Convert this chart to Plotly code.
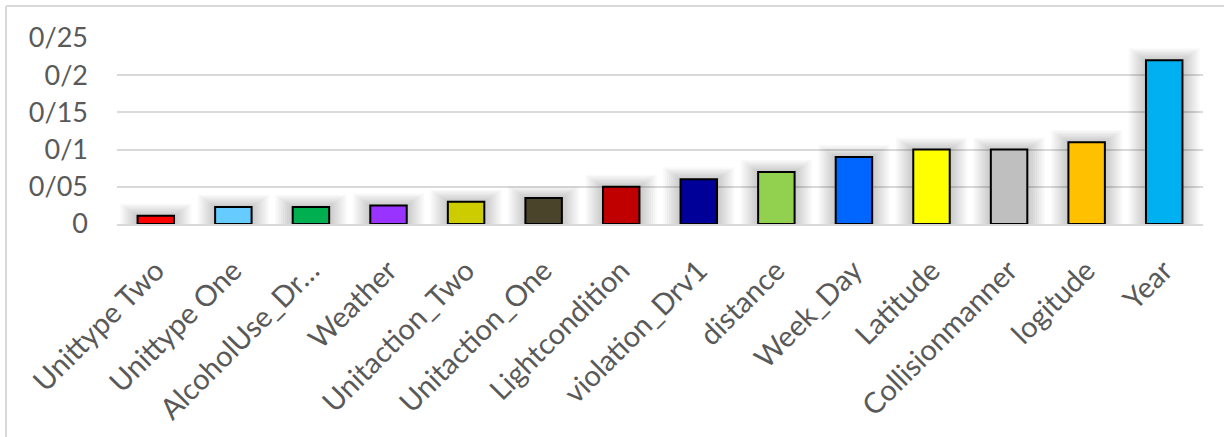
import plotly.graph_objects as go

# Feature importance values per variable
features = [
    "Unittype Two", "Unittype One", "AlcoholUse_Dr…", "Weather",
    "Unitaction_Two", "Unitaction_One", "Lightcondition", "violation_Drv1",
    "distance", "Week_Day", "Latitude", "Collisionmanner", "logitude", "Year",
]
importance = [0.011, 0.023, 0.023, 0.025, 0.030, 0.035, 0.050, 0.060,
              0.070, 0.090, 0.100, 0.100, 0.110, 0.220]
bar_colors = [
    "#FF0000", "#66CCFF", "#00B050", "#9933FF", "#CCCC00", "#4A452A",
    "#C00000", "#000099", "#92D050", "#0066FF", "#FFFF00", "#BFBFBF",
    "#FFC000", "#00B0F0",
]

# y-axis ticks use "/" as the decimal separator
tick_values = [0, 0.05, 0.1, 0.15, 0.2, 0.25]
tick_labels = ["0", "0/05", "0/1", "0/15", "0/2", "0/25"]

BAR_WIDTH = 0.47
FONT = "Lato"
TEXT_COLOR = "#595959"

fig = go.Figure()

# soft drop shadow behind each bar, built from stacked translucent layers
for k in range(1, 10):
    fig.add_trace(go.Bar(
        x=features,
        y=[v + 0.0018 * k for v in importance],
        width=BAR_WIDTH + 0.05 * k,
        marker=dict(color="rgba(0,0,0,0.022)", line=dict(width=0)),
        hoverinfo="skip",
        showlegend=False,
    ))

fig.add_trace(go.Bar(
    x=features,
    y=importance,
    width=BAR_WIDTH,
    marker=dict(color=bar_colors, line=dict(color="#000000", width=2)),
    showlegend=False,
))

fig.update_layout(
    width=1224,
    height=437,
    margin=dict(l=117, r=21, t=38, b=213, autoexpand=False),
    paper_bgcolor="#FFFFFF",
    plot_bgcolor="#FFFFFF",
    barmode="overlay",
    font=dict(family=FONT, size=26, color=TEXT_COLOR),
    xaxis=dict(
        automargin=False,
        tickangle=-45,
        showgrid=False,
        showline=True,
        linecolor="#D9D9D9",
        linewidth=2,
        ticks="",
        ticklabelstandoff=16,
        tickfont=dict(family=FONT, size=29, color=TEXT_COLOR),
    ),
    yaxis=dict(
        automargin=False,
        range=[0, 0.25],
        tickvals=tick_values,
        ticktext=tick_labels,
        showgrid=True,
        gridcolor="#D9D9D9",
        gridwidth=2,
        zeroline=False,
        showline=False,
        ticks="",
        ticklabelstandoff=28,
        tickfont=dict(family=FONT, size=27, color=TEXT_COLOR),
    ),
    shapes=[
        dict(type="line", xref="paper", yref="paper",
             x0=-111 / 1086, x1=1.05, y0=1 + 32 / 186, y1=1 + 32 / 186,
             line=dict(color="#D9D9D9", width=2)),
        dict(type="line", xref="paper", yref="paper",
             x0=-111 / 1086, x1=-111 / 1086, y0=1 + 32 / 186, y1=-1.3,
             line=dict(color="#D9D9D9", width=2)),
    ],
)

fig.write_html("out.html")
